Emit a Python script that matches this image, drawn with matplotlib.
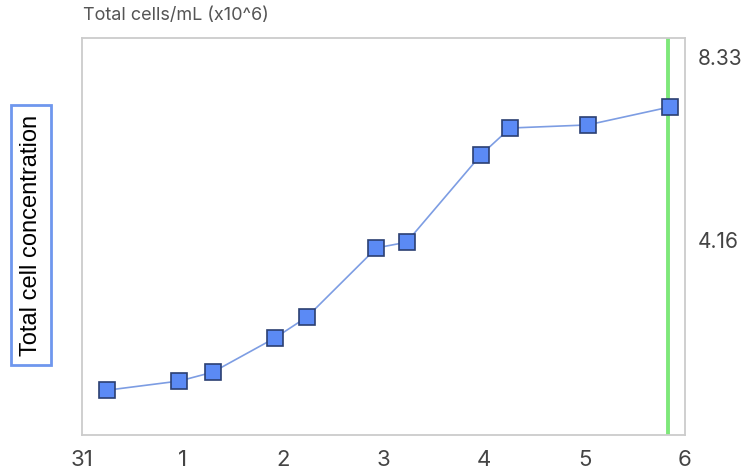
import matplotlib.pyplot as plt

# day offsets and concentrations (x10^6 cells/mL)
days = [0.25, 0.97, 1.30, 1.92, 2.24, 2.93, 3.23, 3.97, 4.26, 5.03, 5.85]
cells = [0.74, 0.95, 1.15, 1.93, 2.41, 3.98, 4.11, 6.10, 6.71, 6.78, 7.19]

x_ticks = [0, 1, 2, 3, 4, 5, 6]
x_labels = ["31", "1", "2", "3", "4", "5", "6"]
y_ticks = [4.16, 8.33]
y_labels = ["4.16", "8.33"]
marker_day = 5.83


def main():
    fig = plt.figure(figsize=(7.43, 4.71), dpi=100)
    ax = fig.add_axes([82 / 743, 1 - 435 / 471, 603 / 743, 397 / 471])

    ax.axvline(marker_day, color="#7ee87a", lw=2.8, zorder=1)
    ax.plot(days, cells, color="#7d9de3", lw=1.2, zorder=2)
    ax.plot(days, cells, ls="none", marker="s", ms=11.5,
            mfc="#5b8af5", mec="#2b3f72", mew=1.2, zorder=3)

    ax.set_xlim(0, 6)
    ax.set_ylim(-0.28, 8.76)
    ax.set_xticks(x_ticks)
    ax.set_xticklabels(x_labels, fontsize=16, color="#444444", family="Inter")
    ax.set_yticks(y_ticks)
    ax.set_yticklabels(y_labels, fontsize=15, color="#444444", family="Inter")
    ax.yaxis.tick_right()
    ax.tick_params(axis="x", length=0, pad=11)
    ax.tick_params(axis="y", length=0, pad=9)

    for spine in ax.spines.values():
        spine.set_color("#cccccc")
        spine.set_linewidth(1.3)

    fig.text(83 / 743, 1 - 16 / 471, "Total cells/mL (x10^6)", fontsize=13,
             color="#555555", family="Inter", va="center", ha="left")

    fig.text(31 / 743, 1 - 235 / 471, "Total cell concentration", rotation=90,
             fontsize=17, color="black", family="Liberation Sans",
             ha="center", va="center",
             bbox=dict(boxstyle="square,pad=0.4", fc="white",
                       ec="#6f97ee", lw=2))

    fig.savefig("out.png", dpi=100)
    plt.close(fig)


if __name__ == "__main__":
    main()
